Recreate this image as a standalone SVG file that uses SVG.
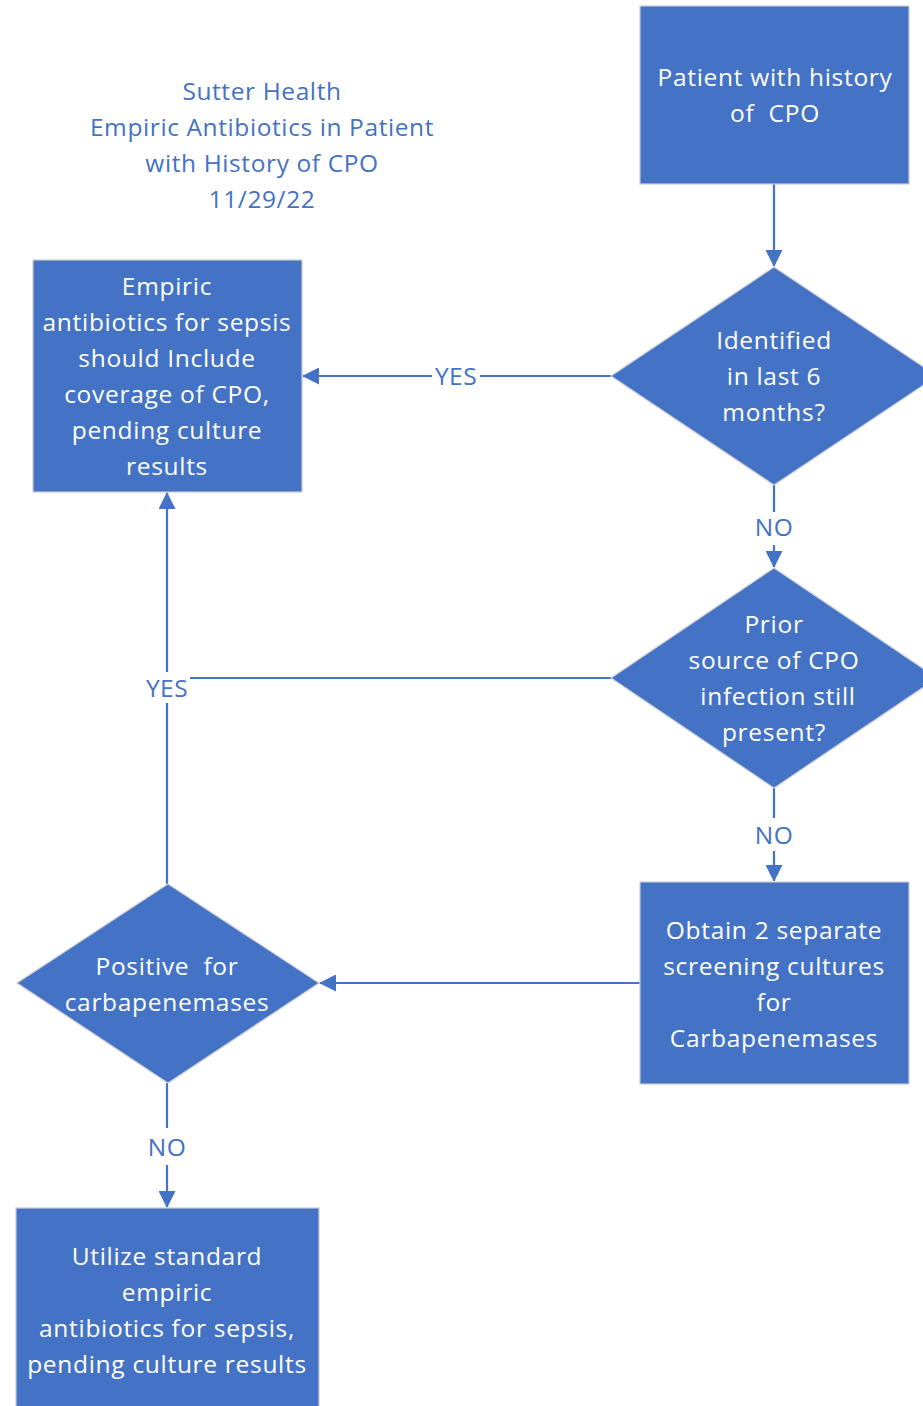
<svg xmlns="http://www.w3.org/2000/svg" width="923" height="1406" viewBox="0 0 923 1406">
<defs>
<style>
.node{fill:#4472C4;stroke:#C8CCD4;stroke-width:1.2}
.nt{font-family:"Open Sans","Liberation Sans",sans-serif;font-size:24.5px;letter-spacing:0.7px;fill:#FFFFFF;text-anchor:middle}
.lbl{font-family:"Open Sans","Liberation Sans",sans-serif;font-size:24.5px;letter-spacing:0.5px;fill:#4472C4;text-anchor:middle}
.ttl{font-family:"Open Sans","Liberation Sans",sans-serif;font-size:24.5px;letter-spacing:0.6px;fill:#4472C4;text-anchor:middle}
.edge{stroke:#4472C4;stroke-width:2.2;fill:none}
</style>
<marker id="ahb" markerWidth="17" markerHeight="17" refX="16" refY="8.5" orient="auto" markerUnits="userSpaceOnUse" viewBox="0 0 17 17">
<path d="M0,0 L17,8.5 L0,17 z" fill="#4472C4"/>
</marker>
</defs>
<rect width="923" height="1406" fill="#FFFFFF"/>

<g id="title">
<text class="ttl" x="262" y="100">Sutter Health</text>
<text class="ttl" x="262" y="136">Empiric Antibiotics in Patient</text>
<text class="ttl" x="262" y="172">with History of CPO</text>
<text class="ttl" x="262" y="208">11/29/22</text>
</g>

<g id="connectors">
<line class="edge" x1="774" y1="184" x2="774" y2="266" marker-end="url(#ahb)"/>
<line class="edge" x1="611" y1="376" x2="480" y2="376"/>
<line class="edge" x1="432" y1="376" x2="303" y2="376" marker-end="url(#ahb)"/>
<text class="lbl" x="456" y="385">YES</text>
<line class="edge" x1="774" y1="485" x2="774" y2="512"/>
<line class="edge" x1="774" y1="545" x2="774" y2="567" marker-end="url(#ahb)"/>
<text class="lbl" x="774" y="536">NO</text>
<line class="edge" x1="611" y1="678" x2="190" y2="678"/>
<line class="edge" x1="167" y1="884" x2="167" y2="703"/>
<line class="edge" x1="167" y1="672" x2="167" y2="493" marker-end="url(#ahb)"/>
<text class="lbl" x="167" y="697">YES</text>
<line class="edge" x1="774" y1="788" x2="774" y2="818"/>
<line class="edge" x1="774" y1="851" x2="774" y2="881" marker-end="url(#ahb)"/>
<text class="lbl" x="774" y="844">NO</text>
<line class="edge" x1="640" y1="983" x2="320" y2="983" marker-end="url(#ahb)"/>
<line class="edge" x1="167" y1="1083" x2="167" y2="1128"/>
<line class="edge" x1="167" y1="1165" x2="167" y2="1207" marker-end="url(#ahb)"/>
<text class="lbl" x="167" y="1156">NO</text>
</g>

<g id="start">
<rect class="node" x="640" y="6" width="269" height="178"/>
<text class="nt" x="775" y="86">Patient with history</text>
<text class="nt" x="775" y="122" xml:space="preserve">of  CPO</text>
</g>

<g id="decision1">
<polygon class="node" points="774,267 937,376 774,485 611,376"/>
<text class="nt" x="774" y="349">Identified</text>
<text class="nt" x="774" y="385">in last 6</text>
<text class="nt" x="774" y="421">months?</text>
</g>

<g id="empiric-cpo">
<rect class="node" x="33" y="260" width="269" height="232"/>
<text class="nt" x="167" y="295">Empiric</text>
<text class="nt" x="167" y="331">antibiotics for sepsis</text>
<text class="nt" x="167" y="367">should Include</text>
<text class="nt" x="167" y="403">coverage of CPO,</text>
<text class="nt" x="167" y="439">pending culture</text>
<text class="nt" x="167" y="475">results</text>
</g>

<g id="decision2">
<polygon class="node" points="774,568 937,678 774,788 611,678"/>
<text class="nt" x="774" y="633">Prior</text>
<text class="nt" x="774" y="669">source of CPO</text>
<text class="nt" x="778" y="705">infection still</text>
<text class="nt" x="774" y="741">present?</text>
</g>

<g id="screening">
<rect class="node" x="640" y="882" width="269" height="202"/>
<text class="nt" x="774" y="939">Obtain 2 separate</text>
<text class="nt" x="774" y="975">screening cultures</text>
<text class="nt" x="774" y="1011">for</text>
<text class="nt" x="774" y="1047">Carbapenemases</text>
</g>

<g id="decision3">
<polygon class="node" points="168,884 319,983 168,1083 17,983"/>
<text class="nt" x="167" y="975" xml:space="preserve">Positive  for</text>
<text class="nt" x="167" y="1011">carbapenemases</text>
</g>

<g id="standard">
<rect class="node" x="16" y="1208" width="303" height="210"/>
<text class="nt" x="167" y="1265">Utilize standard</text>
<text class="nt" x="167" y="1301">empiric</text>
<text class="nt" x="167" y="1337">antibiotics for sepsis,</text>
<text class="nt" x="167" y="1373">pending culture results</text>
</g>
</svg>
